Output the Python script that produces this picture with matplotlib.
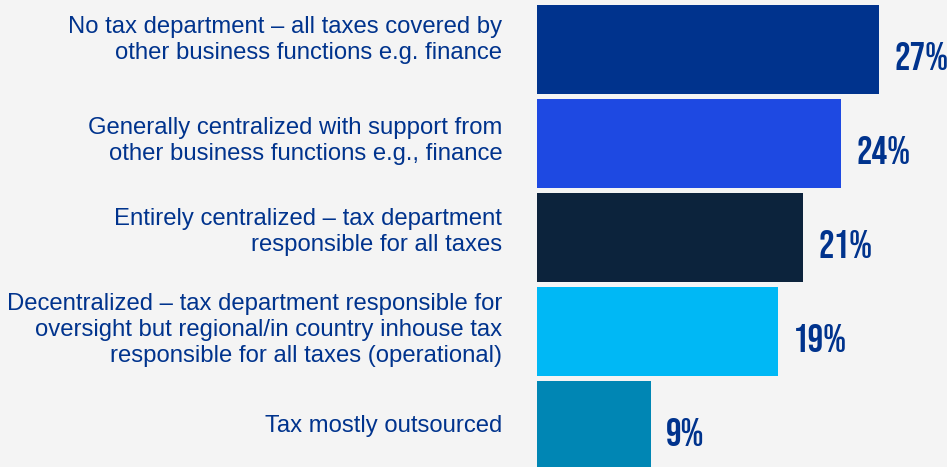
import matplotlib
matplotlib.use("Agg")
import matplotlib.pyplot as plt
from matplotlib import font_manager

categories = [
    "No tax department \u2013 all taxes covered by\nother business functions e.g. finance",
    "Generally centralized with support from\nother business functions e.g., finance",
    "Entirely centralized \u2013 tax department\nresponsible for all taxes",
    "Decentralized \u2013 tax department responsible for\noversight but regional/in country inhouse tax\nresponsible for all taxes (operational)",
    "Tax mostly outsourced",
]
shares = [27, 24, 21, 19, 9]
bar_colors = ["#00338d", "#1e49e2", "#0c233c", "#00b8f5", "#0086b4"]
# vertical nudge of each category label, in points
label_dy = [7, 2, 4, 1, 0]

text_blue = "#00338d"
bg = "#f4f4f4"

# narrow bold face for the percentages, first one that is installed
names = {f.name for f in font_manager.fontManager.ttflist}
pct_family = "DejaVu Sans"
for cand in ["Bebas Neue", "Oswald", "Roboto Condensed"]:
    if cand in names:
        pct_family = cand
        break

fig = plt.figure(figsize=(9.47, 4.67), dpi=100, facecolor=bg)
ax = fig.add_axes([537 / 947, 0, 410 / 947, 1])
ax.set_facecolor(bg)

y = list(range(len(shares)))
ax.barh(y, shares, height=0.947, color=bar_colors)
ax.set_xlim(0, 410 / 12.67)
ax.set_ylim(4.441, -0.527)
ax.axis("off")

for i, (lab, v) in enumerate(zip(categories, shares)):
    ax.annotate(lab, xy=(0, i), xytext=(-25, label_dy[i]), textcoords="offset points",
                ha="right", va="center", fontsize=17.2, color=text_blue,
                family="Liberation Sans", linespacing=1.22, multialignment="right")
    ax.annotate(f"{v}%", xy=(v, i), xytext=(11, -5), textcoords="offset points",
                ha="left", va="center", fontsize=28, color=text_blue,
                family=pct_family, weight="bold")

fig.savefig("out.png", dpi=100, facecolor=bg)
